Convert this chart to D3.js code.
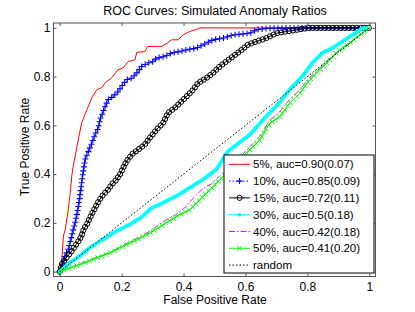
<!DOCTYPE html>
<html><head><meta charset="utf-8">
<script src="https://cdn.jsdelivr.net/npm/d3@7"></script>
<style>
html,body{margin:0;padding:0;background:#fff;}
text{font-family:"Liberation Sans",Arial,Helvetica,sans-serif;fill:#000;}
</style></head>
<body><svg id="c" width="415" height="312"></svg>
<script>
const title = "ROC Curves: Simulated Anomaly Ratios";
const xLabel = "False Positive Rate";
const yLabel = "True Positive Rate";
const xTicks = [0, 0.2, 0.4, 0.6, 0.8, 1];
const yTicks = [0, 0.2, 0.4, 0.6, 0.8, 1];

const seriesNames = ["5%, auc=0.90(0.07)", "10%, auc=0.85(0.09)", "15%, auc=0.72(0.11)",
  "30%, auc=0.5(0.18)", "40%, auc=0.42(0.18)", "50%, auc=0.41(0.20)", "random"];

const roc5 = [[0,0],[0.007,0.051],[0.012,0.146],[0.018,0.174],[0.028,0.256],[0.034,0.325],[0.039,0.392],
 [0.043,0.427],[0.050,0.474],[0.055,0.509],[0.071,0.611],[0.088,0.665],[0.104,0.714],[0.120,0.746],
 [0.136,0.755],[0.147,0.775],[0.168,0.795],[0.188,0.828],[0.205,0.836],[0.221,0.862],[0.243,0.869],
 [0.249,0.899],[0.275,0.903],[0.285,0.924],[0.329,0.924],[0.349,0.939],[0.361,0.951],[0.382,0.951],
 [0.398,0.971],[0.420,0.985],[0.442,0.994],[0.452,1.0],[1,1]];

const roc10 = [[0,0],[0.010,0.031],[0.018,0.067],[0.028,0.092],[0.036,0.133],[0.044,0.174],[0.050,0.201],
 [0.057,0.242],[0.064,0.297],[0.068,0.337],[0.073,0.385],[0.077,0.419],[0.082,0.460],[0.093,0.494],
 [0.104,0.528],[0.114,0.562],[0.125,0.590],[0.130,0.624],[0.139,0.651],[0.147,0.678],[0.157,0.706],
 [0.173,0.719],[0.189,0.739],[0.200,0.760],[0.216,0.787],[0.233,0.794],[0.249,0.815],[0.265,0.842],
 [0.286,0.856],[0.302,0.862],[0.313,0.876],[0.340,0.883],[0.361,0.897],[0.388,0.903],[0.410,0.910],
 [0.442,0.917],[0.452,0.924],[0.474,0.937],[0.495,0.951],[0.528,0.958],[0.560,0.971],[0.614,0.978],
 [0.635,0.992],[0.667,0.998],[0.775,1.0],[1,1]];

const roc15 = [[0,0],[0.007,0.031],[0.018,0.051],[0.028,0.067],[0.039,0.085],[0.050,0.106],[0.061,0.126],
 [0.071,0.146],[0.077,0.174],[0.088,0.194],[0.098,0.222],[0.109,0.249],[0.120,0.276],[0.130,0.297],
 [0.141,0.317],[0.157,0.337],[0.168,0.358],[0.179,0.371],[0.195,0.399],[0.205,0.426],[0.216,0.453],
 [0.233,0.481],[0.254,0.501],[0.275,0.521],[0.291,0.549],[0.313,0.583],[0.334,0.610],[0.350,0.651],
 [0.372,0.672],[0.394,0.699],[0.410,0.719],[0.431,0.746],[0.447,0.774],[0.474,0.794],[0.495,0.815],
 [0.517,0.842],[0.538,0.862],[0.560,0.883],[0.581,0.903],[0.608,0.931],[0.635,0.944],[0.667,0.958],
 [0.700,0.978],[0.732,0.985],[0.775,0.994],[0.807,1.0],[1,1]];

const roc30 = [[0,0],[0.034,0.038],[0.066,0.065],[0.098,0.099],[0.141,0.133],[0.184,0.167],[0.227,0.194],
 [0.270,0.228],[0.291,0.256],[0.334,0.283],[0.377,0.310],[0.420,0.344],[0.463,0.378],[0.506,0.419],
 [0.543,0.493],[0.614,0.562],[0.667,0.637],[0.710,0.693],[0.742,0.746],[0.784,0.801],[0.816,0.857],
 [0.849,0.898],[0.881,0.918],[0.913,0.944],[0.945,0.971],[0.977,0.998],[1,1]];

const roc40 = [[0,0],[0.034,0.016],[0.077,0.037],[0.120,0.058],[0.163,0.080],[0.205,0.108],[0.249,0.137],
 [0.291,0.165],[0.334,0.205],[0.377,0.235],[0.410,0.268],[0.430,0.300],[0.462,0.340],[0.490,0.360],
 [0.602,0.495],[0.646,0.555],[0.678,0.620],[0.710,0.655],[0.742,0.705],[0.775,0.745],[0.807,0.795],
 [0.839,0.833],[0.871,0.872],[0.903,0.910],[0.935,0.938],[0.968,0.970],[1,1]];

const roc50 = [[0,0],[0.034,0.015],[0.077,0.035],[0.120,0.056],[0.163,0.077],[0.205,0.104],[0.249,0.131],
 [0.291,0.158],[0.334,0.192],[0.377,0.226],[0.420,0.254],[0.442,0.281],[0.474,0.322],[0.506,0.363],
 [0.528,0.390],[0.565,0.446],[0.602,0.485],[0.646,0.540],[0.678,0.608],[0.710,0.635],[0.742,0.690],
 [0.775,0.731],[0.807,0.786],[0.839,0.826],[0.871,0.867],[0.903,0.908],[0.935,0.935],[0.968,0.969],[1,1]];

const rocRandom = [[0,0],[1,1]];

const seriesData = [roc5, roc10, roc15, roc30, roc40, roc50, rocRandom];
const colors = ["#ff0000", "#0000ff", "#000000", "#00ffff", "#ff00ff", "#00ff00", "#000000"];
const dashes = [null, "1.5,2", null, null, "6,2,1.5,2", null, "1.5,2"];
const markers = [null, "plus", "circle", "dot", null, "cross", null];
const markerSpacing = [0, 4, 4, 2.2, 0, 4.5, 0];

const svg = d3.select("#c");
const L = 53.5, R = 375.5, T = 23, B = 276.5;
const x = d3.scaleLinear().domain([-0.02, 1.02]).range([L, R]);
const y = d3.scaleLinear().domain([-0.02, 1.02]).range([B, T]);

svg.append("rect").attr("width", 415).attr("height", 312).attr("fill", "#fff");

const fmt = d => String(d);
const gx = svg.append("g").attr("transform", `translate(0,${B})`)
  .call(d3.axisBottom(x).tickValues(xTicks).tickSize(-3).tickPadding(6).tickFormat(fmt));
const gxt = svg.append("g").attr("transform", `translate(0,${T})`)
  .call(d3.axisTop(x).tickValues(xTicks).tickSize(-3).tickFormat(""));
const gy = svg.append("g").attr("transform", `translate(${L},0)`)
  .call(d3.axisLeft(y).tickValues(yTicks).tickSize(-3).tickPadding(3).tickFormat(fmt));
const gyr = svg.append("g").attr("transform", `translate(${R},0)`)
  .call(d3.axisRight(y).tickValues(yTicks).tickSize(-3).tickFormat(""));
[gx, gxt, gy, gyr].forEach(g => {
  g.select(".domain").remove();
  g.selectAll(".tick line").attr("stroke", "#555");
  g.selectAll("text").attr("font-size", 12).attr("fill", "#000")
   .style("font-family", "Liberation Sans, Arial, sans-serif");
});
svg.append("rect").attr("x", L).attr("y", T).attr("width", R - L).attr("height", B - T)
  .attr("fill", "none").attr("stroke", "#555").attr("stroke-width", 1);

const line = d3.line().x(d => x(d[0])).y(d => y(d[1]));

function drawMarker(g, type, px, py, color) {
  if (type === "plus") {
    g.append("path").attr("d", `M${px-3},${py}H${px+3}M${px},${py-3}V${py+3}`)
      .attr("stroke", color).attr("stroke-width", 1.1).attr("fill", "none");
  } else if (type === "cross") {
    g.append("path").attr("d", `M${px-2.3},${py-2.3}L${px+2.3},${py+2.3}M${px-2.3},${py+2.3}L${px+2.3},${py-2.3}`)
      .attr("stroke", color).attr("stroke-width", 1).attr("fill", "none");
  } else if (type === "circle") {
    g.append("circle").attr("cx", px).attr("cy", py).attr("r", 2.6)
      .attr("stroke", color).attr("stroke-width", 1).attr("fill", "none");
  } else if (type === "dot") {
    g.append("circle").attr("cx", px).attr("cy", py).attr("r", 2)
      .attr("fill", color).attr("stroke", "none");
  }
}

const plotG = svg.append("g");
seriesData.forEach((data, i) => {
  const g = plotG.append("g");
  const p = g.append("path").datum(data).attr("d", line)
    .attr("fill", "none").attr("stroke", colors[i]).attr("stroke-width", 1)
    .attr("stroke-dasharray", dashes[i]);
  if (markers[i]) {
    const node = p.node();
    const len = node.getTotalLength();
    for (let s = 0; s <= len; s += markerSpacing[i]) {
      const pt = node.getPointAtLength(s);
      drawMarker(g, markers[i], pt.x, pt.y, colors[i]);
    }
  }
});

const lgX = 224, lgY = 155, lgW = 150, lgH = 118;
const lg = svg.append("g");
lg.append("rect").attr("x", lgX).attr("y", lgY).attr("width", lgW).attr("height", lgH)
  .attr("fill", "#fff").attr("stroke", "#000").attr("stroke-width", 1);
seriesNames.forEach((name, i) => {
  const cy = 164.3 + i * 16.8;
  lg.append("line").attr("x1", 229).attr("x2", 250).attr("y1", cy).attr("y2", cy)
    .attr("stroke", colors[i]).attr("stroke-width", 1).attr("stroke-dasharray", dashes[i]);
  if (markers[i]) drawMarker(lg, markers[i], 239.5, cy, colors[i]);
  lg.append("text").attr("x", 253).attr("y", cy + 4).attr("font-size", 11.5).text(name);
});

svg.append("text").attr("x", 215).attr("y", 14.5).attr("text-anchor", "middle")
  .attr("font-size", 12.5).text(title);
svg.append("text").attr("x", 215).attr("y", 304).attr("text-anchor", "middle")
  .attr("font-size", 12).text(xLabel);
svg.append("text").attr("transform", "translate(29,147) rotate(-90)").attr("text-anchor", "middle")
  .attr("font-size", 12).text(yLabel);
</script></body></html>
